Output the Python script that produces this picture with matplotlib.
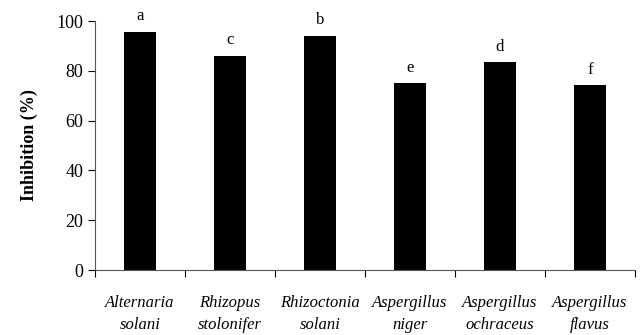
import matplotlib
matplotlib.use('Agg')
import matplotlib.pyplot as plt
import numpy as np

plt.rcParams['font.family'] = 'Liberation Serif'

fungi = ['Alternaria\nsolani', 'Rhizopus\nstolonifer', 'Rhizoctonia\nsolani',
         'Aspergillus\nniger', 'Aspergillus\nochraceus', 'Aspergillus\nflavus']
inhibition = [95.7, 86.1, 94.1, 75.0, 83.4, 74.3]
letters = ['a', 'c', 'b', 'e', 'd', 'f']

fig = plt.figure(figsize=(6.4, 3.35), dpi=100)
ax = fig.add_axes([0.1484, 0.194, 0.8436, 0.743])

x = np.arange(len(fungi))
ax.bar(x, inhibition, width=0.36, color='black')
for xi, v, l in zip(x, inhibition, letters):
    ax.text(xi, v + 3, l, ha='center', va='bottom', fontsize=12)

ax.set_xlim(-0.5, len(fungi) - 0.5)
ax.set_ylim(0, 100)
ax.set_yticks([0, 20, 40, 60, 80, 100])
ax.tick_params(axis='y', labelsize=13, length=5, direction='out')

# x ticks sit at the category boundaries, labels in the middle
ax.set_xticks(np.arange(len(fungi) + 1) - 0.5)
ax.set_xticklabels([])
ax.tick_params(axis='x', length=5, direction='out')
ax.set_xticks(x, minor=True)
ax.set_xticklabels(fungi, minor=True, fontstyle='italic', fontsize=12,
                   linespacing=1.5)
ax.tick_params(axis='x', which='minor', length=0, pad=18)

ax.spines['top'].set_visible(False)
ax.spines['right'].set_visible(False)
ax.spines['left'].set_color('#555555')
ax.spines['bottom'].set_color('#555555')

ax.set_ylabel('Inhibition (%)', fontsize=13, fontweight='bold', labelpad=13)

fig.savefig('out.png', dpi=100)
